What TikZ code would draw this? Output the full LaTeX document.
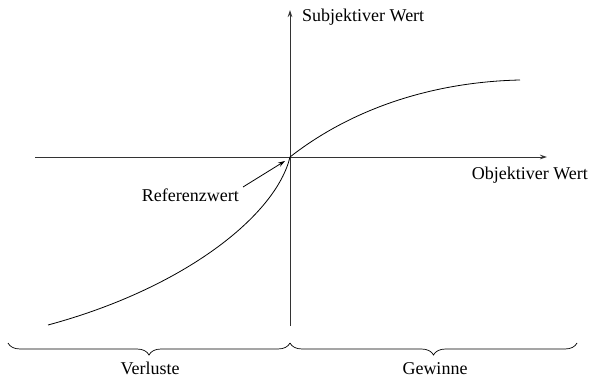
\documentclass[tikz,border=0pt]{standalone}
\usepackage{fontspec}
\setmainfont{Liberation Serif}
\usetikzlibrary{arrows.meta,decorations.pathreplacing}
\begin{document}
\begin{tikzpicture}[x=1pt,y=-1pt,
  lbl/.style={inner sep=0pt,font=\fontsize{18}{21}\selectfont},
  axis/.style={line width=0.9pt,draw=black!80,-{Stealth[length=7pt,width=4.5pt]}},
  crv/.style={line width=0.8pt},
  brc/.style={line width=0.7pt,decorate,decoration={brace,amplitude=12pt}}]
\useasboundingbox (0,0) rectangle (592,377);
\coordinate (O) at (290,157);
\coordinate (xl) at (35,157);
\coordinate (xr) at (547,157);
\coordinate (yb) at (290,326);
\coordinate (yt) at (290,10);
\draw[axis] (xl) -- (xr);
\draw[axis] (yb) -- (yt);
\coordinate (rend) at (520,80);
\coordinate (lend) at (48,325);
\draw[crv] (O) .. controls (350,110) and (430,82) .. (rend);
\draw[crv] (O) .. controls (276,215) and (185,288) .. (lend);
\node[lbl,anchor=base west] (sw) at (302,22) {Subjektiver Wert};
\node[lbl,anchor=base east] (ow) at (588,180) {Objektiver Wert};
\node[lbl,anchor=base east] (rw) at (239,201) {Referenzwert};
\coordinate (rtip) at (285,161);
\coordinate (rs) at (243,187);
\draw[line width=0.8pt,-{Stealth[length=7pt,width=4.5pt]}] (rs) -- (rtip);
\coordinate (b1) at (8,343);
\coordinate (b2) at (290,343);
\coordinate (b3) at (577,343);
\draw[brc] (b2) -- (b1);
\draw[brc] (b3) -- (b2);
\node[lbl,anchor=base] (vl) at (150,374) {Verluste};
\node[lbl,anchor=base] (gw) at (435,374) {Gewinne};
\end{tikzpicture}
\end{document}
